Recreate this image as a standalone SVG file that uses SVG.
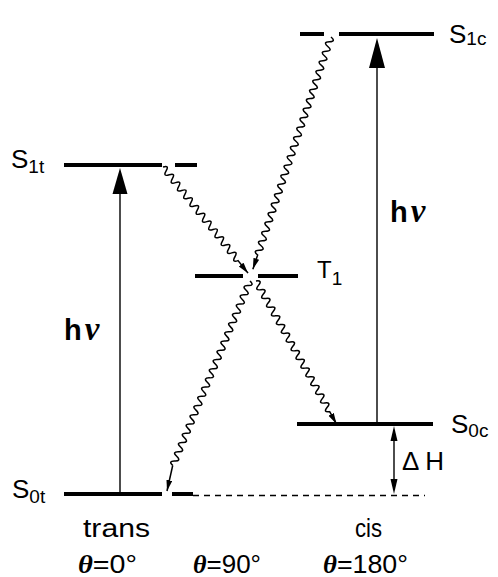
<svg xmlns="http://www.w3.org/2000/svg" width="498" height="577" viewBox="0 0 498 577">
<style>
.lvl{stroke:#000;stroke-width:4;fill:none}
.ar{stroke:#000;stroke-width:1.4;fill:none}
.wv{stroke:#000;stroke-width:1.5;fill:none}
.hd{fill:#000}
.lbl{font-family:"Liberation Sans",Arial,sans-serif;font-size:26px;fill:#000}
.sub{font-size:19px}
.hv{font-family:"Liberation Sans",Arial,sans-serif;font-weight:bold;font-size:29px;fill:#000}
.nu{font-family:"Liberation Serif","Times New Roman",serif;font-style:italic;font-weight:bold;font-size:33px}
.th{font-family:"Liberation Serif","Times New Roman",serif;font-style:italic;font-weight:bold}
.cap{font-family:"Liberation Sans",Arial,sans-serif;font-size:25px;fill:#000}
</style>
<defs>
<marker id="ah" markerUnits="userSpaceOnUse" markerWidth="12" markerHeight="8" refX="11" refY="3" orient="auto">
<path d="M0,0 L11,3 L0,6 z" fill="#000"/>
</marker>
</defs>

<g id="S1c">
<line class="lvl" x1="300" y1="34" x2="324" y2="34"/>
<line class="lvl" x1="339" y1="34" x2="434" y2="34"/>
<text class="lbl" x="449" y="43">S<tspan class="sub" dy="2">1c</tspan></text>
</g>
<g id="S1t">
<line class="lvl" x1="64" y1="165" x2="162" y2="165"/>
<line class="lvl" x1="175" y1="165" x2="197" y2="165"/>
<text class="lbl" x="11" y="168">S<tspan class="sub" dy="5">1t</tspan></text>
</g>
<g id="T1">
<line class="lvl" x1="195" y1="276" x2="243" y2="276"/>
<line class="lvl" x1="258" y1="276" x2="298" y2="276"/>
<text class="lbl" x="317" y="278" style="font-size:24px">T<tspan class="sub" dy="7">1</tspan></text>
</g>
<g id="S0c">
<line class="lvl" x1="297" y1="424" x2="433" y2="424"/>
<text class="lbl" x="451" y="433">S<tspan class="sub" dy="4">0c</tspan></text>
</g>
<g id="S0t">
<line class="lvl" x1="64" y1="494" x2="162" y2="494"/>
<line class="lvl" x1="172" y1="494" x2="193" y2="494"/>
<text class="lbl" x="12" y="498">S<tspan class="sub" dy="5">0t</tspan></text>
</g>

<g id="connectors">
<line x1="193" y1="495.5" x2="425" y2="495.5" stroke="#000" stroke-width="1.3" stroke-dasharray="6,5"/>
<line class="ar" x1="120" y1="494" x2="120" y2="190"/>
<polygon class="hd" points="120,168 112.5,194 127.5,194"/>
<line class="ar" x1="377" y1="424" x2="377" y2="64"/>
<polygon class="hd" points="377,38 369,68 385,68"/>
<line class="ar" x1="394" y1="436" x2="394" y2="484"/>
<polygon class="hd" points="394,426 390.5,441 397.5,441"/>
<polygon class="hd" points="394,494 390.5,479 397.5,479"/>

<g transform="translate(163,167) rotate(51.3)">
<path class="wv" marker-end="url(#ah)" d="M0,0 q2.5,-6.5 5,0 t5,0 t5,0 t5,0 t5,0 t5,0 t5,0 t5,0 t5,0 t5,0 t5,0 t5,0 t5,0 t5,0 t5,0 t5,0 t5,0 t5,0 t5,0 t5,0 t5,0 t5,0 t5,0 t5,0 l16,0"/>
</g>
<g transform="translate(331,37) rotate(108.6)">
<path class="wv" marker-end="url(#ah)" d="M0,0 q2.5,-6.5 5,0 t5,0 t5,0 t5,0 t5,0 t5,0 t5,0 t5,0 t5,0 t5,0 t5,0 t5,0 t5,0 t5,0 t5,0 t5,0 t5,0 t5,0 t5,0 t5,0 t5,0 t5,0 t5,0 t5,0 t5,0 t5,0 t5,0 t5,0 t5,0 t5,0 t5,0 t5,0 t5,0 t5,0 t5,0 t5,0 t5,0 t5,0 t5,0 t5,0 t5,0 t5,0 t5,0 t5,0 t5,0 t5,0 l15,0"/>
</g>
<g transform="translate(250,281) rotate(112.7)">
<path class="wv" d="M0,0 q2.5,-6.5 5,0 t5,0 t5,0 t5,0 t5,0 t5,0 t5,0 t5,0 t5,0 t5,0 t5,0 t5,0 t5,0 t5,0 t5,0 t5,0 t5,0 t5,0 t5,0 t5,0 t5,0 t5,0 t5,0 t5,0 t5,0 t5,0 t5,0 t5,0 t5,0 t5,0 t5,0 t5,0 t5,0 t5,0 t5,0 t5,0 t5,0 t5,0 t5,0 t5,0"/>
</g>
<path class="wv" marker-end="url(#ah)" d="M172.7,465.5 L167,491"/>
<g transform="translate(256,281) rotate(60.6)">
<path class="wv" marker-end="url(#ah)" d="M0,0 q2.5,-6.5 5,0 t5,0 t5,0 t5,0 t5,0 t5,0 t5,0 t5,0 t5,0 t5,0 t5,0 t5,0 t5,0 t5,0 t5,0 t5,0 t5,0 t5,0 t5,0 t5,0 t5,0 t5,0 t5,0 t5,0 t5,0 t5,0 t5,0 t5,0 t5,0 t5,0 l14,0"/>
</g>
</g>

<g id="labels">
<text class="hv" x="64" y="340">h<tspan class="nu" dx="3">ν</tspan></text>
<text class="hv" x="390" y="222">h<tspan class="nu" dx="3">ν</tspan></text>
<text class="lbl" x="402" y="470">Δ H</text>
<text class="cap" x="83" y="537" textLength="67" lengthAdjust="spacingAndGlyphs">trans</text>
<text class="cap" x="355" y="537" textLength="27" lengthAdjust="spacingAndGlyphs">cis</text>
<text class="cap" x="78" y="573" textLength="59" lengthAdjust="spacingAndGlyphs"><tspan class="th">θ</tspan>=0°</text>
<text class="cap" x="193" y="573" textLength="68" lengthAdjust="spacingAndGlyphs"><tspan class="th">θ</tspan>=90°</text>
<text class="cap" x="323" y="573" textLength="85" lengthAdjust="spacingAndGlyphs"><tspan class="th">θ</tspan>=180°</text>
</g>
</svg>
